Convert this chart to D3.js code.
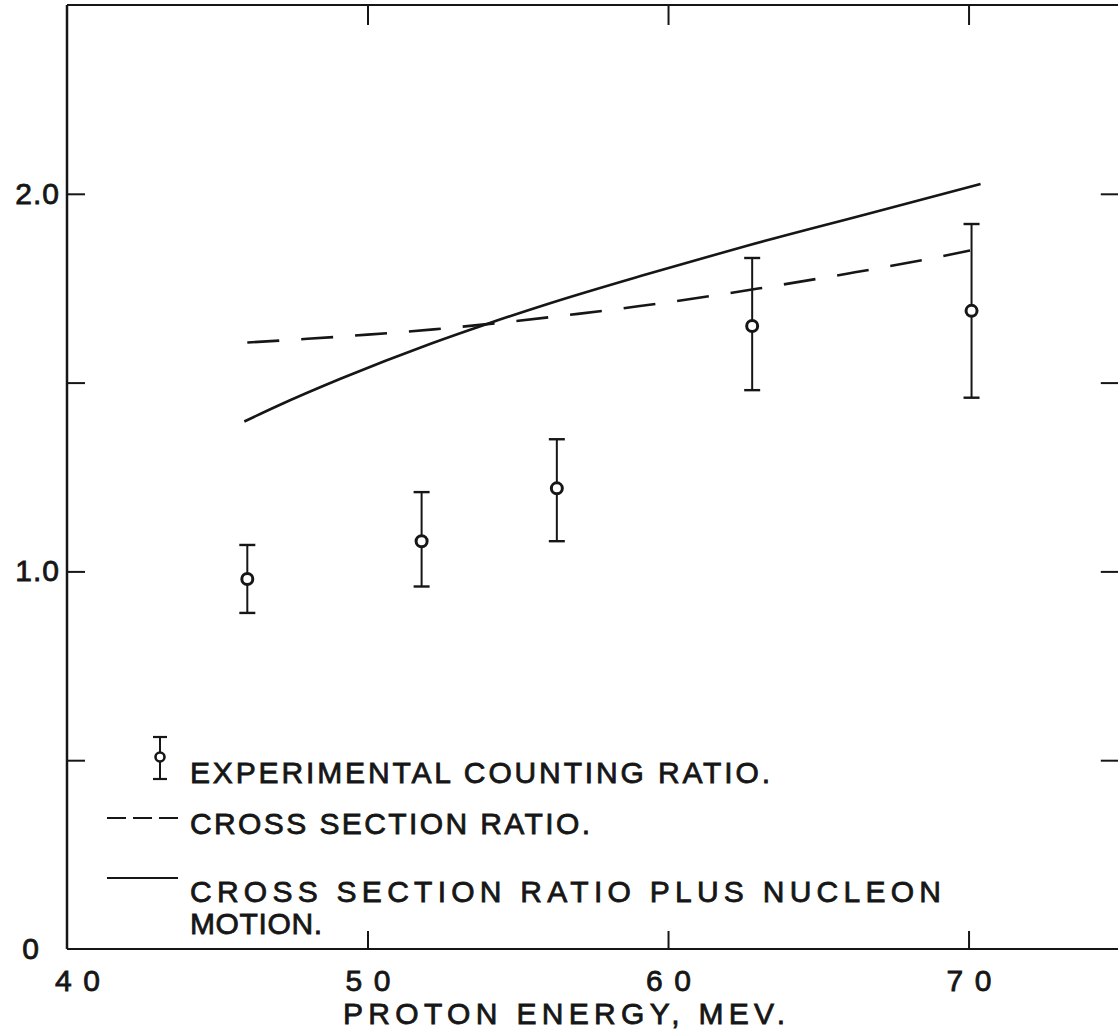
<!DOCTYPE html>
<html>
<head>
<meta charset="utf-8">
<script src="https://cdn.jsdelivr.net/npm/d3@7"></script>
<style>
  html, body { margin: 0; padding: 0; background: #fff; }
  svg { display: block; }
  text { font-family: "Liberation Sans", Arial, sans-serif; fill: #161616; stroke: #161616; stroke-width: 0.8; white-space: pre; }
</style>
</head>
<body>
<svg id="chart" width="1118" height="1035"></svg>
<script>
// Experimental counting ratio with error bars
const energies      = [46.0, 51.8, 56.3, 62.8, 70.1];
const countingRatio = [0.98, 1.08, 1.22, 1.65, 1.69];
const ratioUpper    = [1.07, 1.21, 1.35, 1.83, 1.92];
const ratioLower    = [0.89, 0.96, 1.08, 1.48, 1.46];

// Cross section ratio (dashed curve)
const crossSectionE     = [46.0, 48.0, 50.0, 52.2, 54.6, 57.0, 59.0, 61.4, 63.0, 66.0, 68.7, 70.05];
const crossSectionRatio = [1.606, 1.616, 1.627, 1.641, 1.660, 1.682, 1.702, 1.729, 1.749, 1.789, 1.828, 1.850];

// Cross section ratio plus nucleon motion (solid curve)
const motionE     = [45.9, 47.0, 49.1, 52.1, 54.0, 56.1, 59.2, 62.6, 66.6, 70.4];
const motionRatio = [1.397, 1.438, 1.510, 1.603, 1.656, 1.711, 1.785, 1.862, 1.946, 2.026];

// Axis ticks and labels
const xTicks = [40, 50, 60, 70];
const xInnerTicks = [50, 60, 70];
const yTicks = [0.5, 1.0, 1.5, 2.0];
const yLabelValues = [0, 1.0, 2.0];
const yLabelText = ["0", "1.0", "2.0"];
const xTitle = "PROTON ENERGY, MEV.";
const legendLabels = [
  "EXPERIMENTAL COUNTING RATIO.",
  "CROSS SECTION RATIO.",
  "CROSS SECTION RATIO PLUS NUCLEON",
  "MOTION."
];

const ink = "#161616";
const svg = d3.select("#chart");

const x = d3.scaleLinear().domain([40, 75]).range([67, 1118.8]);
const y = d3.scaleLinear().domain([0, 2.5]).range([949, 5]);

// Frame lines
svg.append("line").attr("x1", x(40)).attr("x2", x(75)).attr("y1", y(0)).attr("y2", y(0))
  .attr("stroke", ink).attr("stroke-width", 2);
svg.append("line").attr("x1", x(40)).attr("x2", x(75)).attr("y1", y(2.5)).attr("y2", y(2.5))
  .attr("stroke", ink).attr("stroke-width", 2);
svg.append("line").attr("x1", x(40)).attr("x2", x(40)).attr("y1", y(0)).attr("y2", y(2.5))
  .attr("stroke", ink).attr("stroke-width", 2.5);

function styleAxis(g) {
  g.select(".domain").remove();
  g.selectAll(".tick line").attr("stroke", ink).attr("stroke-width", 2);
  g.selectAll(".tick text").remove();
}

// Inward ticks on all four sides
svg.append("g").attr("transform", `translate(0,${y(0)})`)
  .call(d3.axisBottom(x).tickValues(xInnerTicks).tickSizeInner(-18).tickSizeOuter(0)).call(styleAxis);
svg.append("g").attr("transform", `translate(0,${y(2.5)})`)
  .call(d3.axisTop(x).tickValues(xInnerTicks).tickSizeInner(-20).tickSizeOuter(0)).call(styleAxis);
svg.append("g").attr("transform", `translate(${x(40)},0)`)
  .call(d3.axisLeft(y).tickValues(yTicks).tickSizeInner(-18).tickSizeOuter(0)).call(styleAxis);
svg.append("g").attr("transform", `translate(${x(75)},0)`)
  .call(d3.axisRight(y).tickValues(yTicks).tickSizeInner(-18).tickSizeOuter(0)).call(styleAxis);

// Tick labels
svg.selectAll(".xlab").data(xTicks).join("text")
  .attr("class", "xlab")
  .attr("x", (d, i) => x(d) + (i === 0 ? 10 : 0) - 22)
  .attr("y", 991)
  .attr("textLength", 45).attr("lengthAdjust", "spacing")
  .attr("font-size", 30)
  .text(d => d);

svg.selectAll(".ylab").data(yLabelValues).join("text")
  .attr("class", "ylab")
  .attr("x", d => d === 0 ? 40 : 60)
  .attr("y", d => y(d) + 10)
  .attr("text-anchor", "end")
  .attr("font-size", 30)
  .attr("letter-spacing", 1)
  .text((d, i) => yLabelText[i]);

svg.append("text")
  .attr("x", 343).attr("y", 1024)
  .attr("textLength", 442).attr("lengthAdjust", "spacing")
  .attr("font-size", 30)
  .text(xTitle);

// Curves
const line = d3.line().x(d => x(d[0])).y(d => y(d[1])).curve(d3.curveMonotoneX);

svg.append("path")
  .datum(crossSectionE.map((e, i) => [e, crossSectionRatio[i]]))
  .attr("d", line).attr("fill", "none").attr("stroke", ink)
  .attr("stroke-width", 2.6).attr("stroke-dasharray", "32,22");

svg.append("path")
  .datum(motionE.map((e, i) => [e, motionRatio[i]]))
  .attr("d", line).attr("fill", "none").attr("stroke", ink)
  .attr("stroke-width", 2.6);

// Experimental points with error bars
const pts = energies.map((e, i) => ({ e, v: countingRatio[i], hi: ratioUpper[i], lo: ratioLower[i] }));
const pg = svg.append("g").selectAll("g").data(pts).join("g");
pg.append("line").attr("x1", d => x(d.e)).attr("x2", d => x(d.e))
  .attr("y1", d => y(d.hi)).attr("y2", d => y(d.lo)).attr("stroke", ink).attr("stroke-width", 2);
pg.append("line").attr("x1", d => x(d.e) - 8).attr("x2", d => x(d.e) + 8)
  .attr("y1", d => y(d.hi)).attr("y2", d => y(d.hi)).attr("stroke", ink).attr("stroke-width", 2.4);
pg.append("line").attr("x1", d => x(d.e) - 8).attr("x2", d => x(d.e) + 8)
  .attr("y1", d => y(d.lo)).attr("y2", d => y(d.lo)).attr("stroke", ink).attr("stroke-width", 2.4);
pg.append("circle").attr("cx", d => x(d.e)).attr("cy", d => y(d.v)).attr("r", 5.5)
  .attr("fill", "#fff").attr("stroke", ink).attr("stroke-width", 3);

// Legend
const lg = svg.append("g");
lg.append("line").attr("x1", 160).attr("x2", 160).attr("y1", 737).attr("y2", 779)
  .attr("stroke", ink).attr("stroke-width", 2);
lg.append("line").attr("x1", 153).attr("x2", 167).attr("y1", 737).attr("y2", 737)
  .attr("stroke", ink).attr("stroke-width", 2.2);
lg.append("line").attr("x1", 153).attr("x2", 167).attr("y1", 779).attr("y2", 779)
  .attr("stroke", ink).attr("stroke-width", 2.2);
lg.append("circle").attr("cx", 160).attr("cy", 757).attr("r", 4.5)
  .attr("fill", "#fff").attr("stroke", ink).attr("stroke-width", 2.6);

lg.append("line").attr("x1", 107).attr("x2", 178).attr("y1", 818).attr("y2", 818)
  .attr("stroke", ink).attr("stroke-width", 1.8).attr("stroke-dasharray", "19,7");
lg.append("line").attr("x1", 107).attr("x2", 178).attr("y1", 878).attr("y2", 878)
  .attr("stroke", ink).attr("stroke-width", 1.8);

const legendPos = [
  { x: 190, y: 783, w: 580 },
  { x: 190, y: 834, w: 400 },
  { x: 190, y: 902, w: 751 },
  { x: 190, y: 934, w: 132 }
];
lg.selectAll("text").data(legendLabels).join("text")
  .attr("x", (d, i) => legendPos[i].x)
  .attr("y", (d, i) => legendPos[i].y)
  .attr("textLength", (d, i) => legendPos[i].w)
  .attr("lengthAdjust", "spacing")
  .attr("font-size", 30)
  .text(d => d);
</script>
</body>
</html>
